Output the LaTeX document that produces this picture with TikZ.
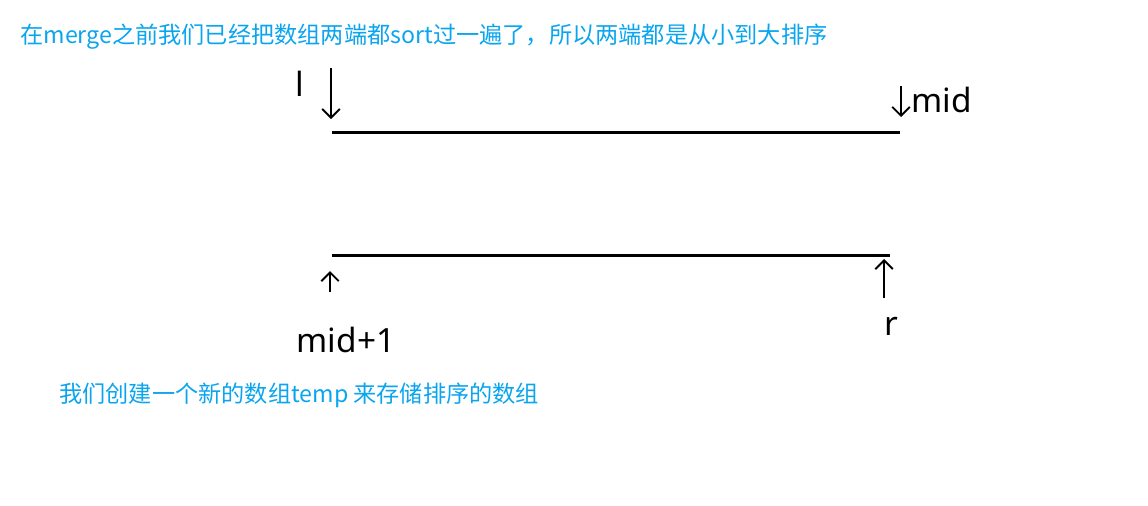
\documentclass[tikz,border=0pt]{standalone}
\usepackage{fontspec}
\setmainfont{Noto Sans}
\newfontfamily\cjk{Noto Sans CJK SC}
\usetikzlibrary{arrows.meta}
\definecolor{noteblue}{RGB}{10,165,238}
\begin{document}
\begin{tikzpicture}[x=0.02cm,y=-0.02cm,
    note/.style={anchor=west,inner sep=0pt,text=noteblue,font=\cjk\fontsize{13.2pt}{16pt}\selectfont},
    hand/.style={inner sep=0pt,font=\fontsize{19pt}{23pt}\selectfont},
    pointer/.style={line width=1.1pt,-{Straight Barb[length=5pt,width=10pt]}},
    span/.style={line width=1.7pt}]
                \useasboundingbox (0,0) rectangle (1148,505);
                % notes
                \node[note] (noteTop) at (20,37) {在merge之前我们已经把数组两端都sort过一遍了，所以两端都是从小到大排序};
                \node[note] (noteTemp) at (59,395) {我们创建一个新的数组temp 来存储排序的数组};
                % the two sorted halves
                \coordinate (leftStart) at (332,132);
                \coordinate (leftEnd) at (900,132);
                \coordinate (rightStart) at (332,255);
                \coordinate (rightEnd) at (890,255);
                \draw[span] (leftStart) -- (leftEnd);
                \draw[span] (rightStart) -- (rightEnd);
                % pointers
                \node[hand] (lName) at (300,84) {l};
                \node[hand,anchor=west] (midName) at (911,100) {mid};
                \node[hand] (midNextName) at (346,340) {mid+1};
                \node[hand] (rName) at (891,326) {r};
                \coordinate (lTail) at (331,68);
                \coordinate (lTip) at (331,119);
                \coordinate (midTail) at (901,86);
                \coordinate (midTip) at (901,117);
                \coordinate (midNextTail) at (330,292);
                \coordinate (midNextTip) at (330,271);
                \coordinate (rTail) at (884,298);
                \coordinate (rTip) at (884,259);
                \draw[pointer] (lTail) -- (lTip);
                \draw[pointer] (midTail) -- (midTip);
                \draw[pointer] (midNextTail) -- (midNextTip);
                \draw[pointer] (rTail) -- (rTip);
            \end{tikzpicture}
\end{document}
